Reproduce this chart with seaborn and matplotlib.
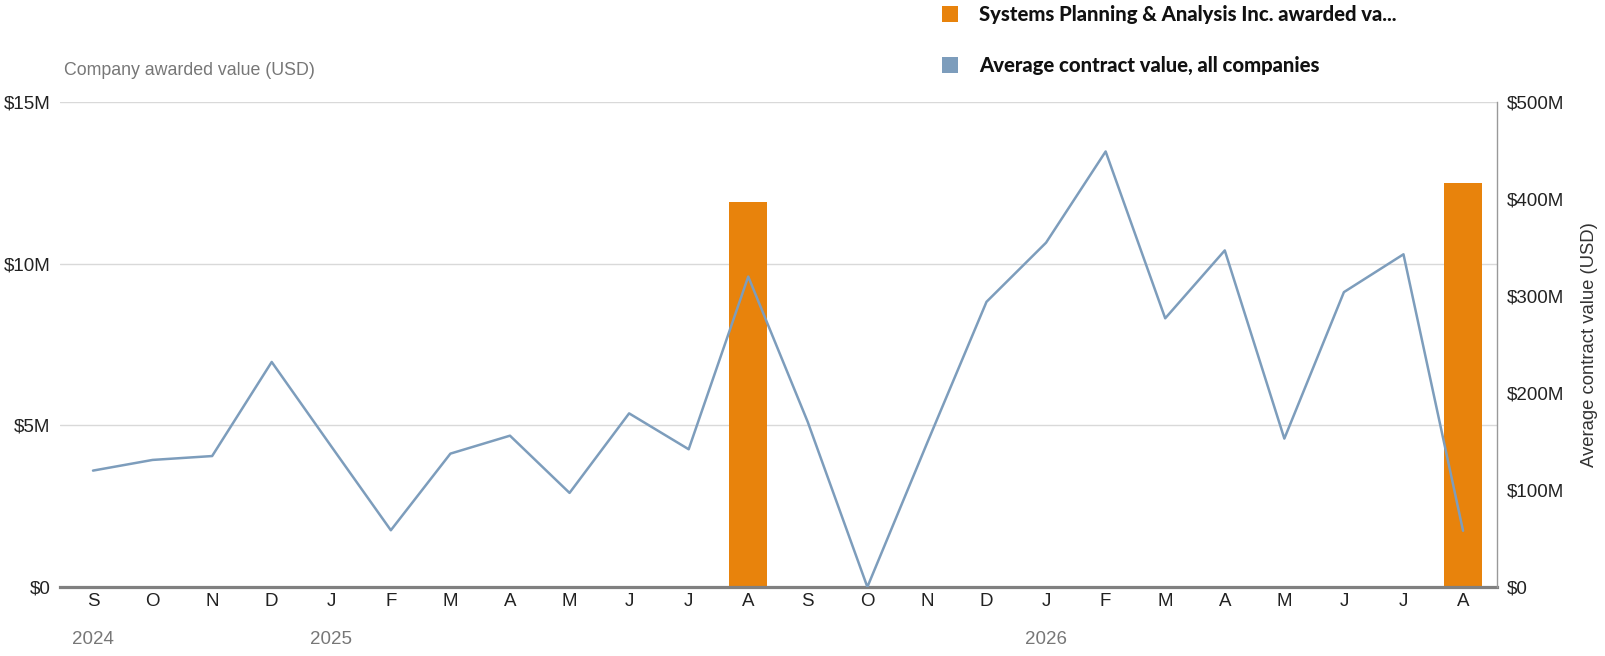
import matplotlib
matplotlib.use("Agg")
import matplotlib.pyplot as plt
import matplotlib.transforms as mtransforms
from matplotlib.patches import Rectangle
import pandas as pd
import seaborn as sns

# Monthly data, Sep 2024 - Aug 2026
months = ['S', 'O', 'N', 'D', 'J', 'F', 'M', 'A', 'M', 'J', 'J', 'A',
          'S', 'O', 'N', 'D', 'J', 'F', 'M', 'A', 'M', 'J', 'J', 'A']
# company awarded value, $M (left axis)
awarded = [0, 0, 0, 0, 0, 0, 0, 0, 0, 0, 0, 11.9,
           0, 0, 0, 0, 0, 0, 0, 0, 0, 0, 0, 12.5]
# average contract value all companies, $M (right axis)
avg_value = [120, 131, 135, 232, 145, 58.5, 137.5, 156, 97, 179, 142, 320,
             170, 0, 148, 294, 355, 449, 277, 347, 153, 304, 343, 58]
years = ['2024', '2025', '2026']
year_pos = [0, 4, 16]

df = pd.DataFrame({'idx': range(len(months)), 'month': months,
                   'awarded': awarded, 'avg': avg_value})

ORANGE = '#E8830C'
BLUE = '#7D9DBC'
W, H = 1606, 656

sns.set_style('white')
plt.rcParams['font.family'] = ['Liberation Sans', 'DejaVu Sans']

fig = plt.figure(figsize=(W / 100, H / 100), dpi=100)
ax = fig.add_axes([60 / W, (H - 587) / H, (1497 - 60) / W, (587 - 102) / H])

sns.barplot(data=df, x='idx', y='awarded', color=ORANGE, width=0.64,
            saturation=1, linewidth=0, ax=ax)
ax.set_ylim(0, 15)
ax.set_xlim(-0.554, 23.57)
ax.set_yticks([0, 5, 10, 15])
ax.set_yticklabels(['$0', '$5M', '$10M', '$15M'])
ax.set_xticks(range(len(months)))
ax.set_xticklabels(months)
ax.set_xlabel('')
ax.set_ylabel('')
ax.grid(axis='y', color='#d9d9d9', lw=1)
ax.set_axisbelow(True)
for s in ['left', 'top', 'right']:
    ax.spines[s].set_visible(False)
ax.spines['bottom'].set_color('#808080')
ax.spines['bottom'].set_linewidth(2.3)
ax.spines['bottom'].set_zorder(5)
ax.tick_params(axis='both', length=0, labelsize=13.5, colors='#222222')
ax.tick_params(axis='y', pad=7)
ax.tick_params(axis='x', pad=4)

ax2 = ax.twinx()
sns.lineplot(data=df, x='idx', y='avg', color=BLUE, lw=1.8, ax=ax2)
ax2.set_ylim(0, 500)
ax2.set_yticks([0, 100, 200, 300, 400, 500])
ax2.set_yticklabels(['$0', '$100M', '$200M', '$300M', '$400M', '$500M'])
ax2.set_xlim(-0.554, 23.57)
ax2.set_xlabel('')
ax2.set_ylabel('Average contract value (USD)', fontsize=13.3, color='#333333',
               labelpad=12)
for s in ['left', 'top', 'bottom']:
    ax2.spines[s].set_visible(False)
ax2.spines['right'].set_color('#999999')
ax2.spines['right'].set_linewidth(1)
ax2.tick_params(axis='y', length=0, labelsize=13.5, colors='#222222', pad=7)
ax2.grid(False)

# year labels under the months
trans = mtransforms.blended_transform_factory(ax.transData, fig.transFigure)
for y, p in zip(years, year_pos):
    ax.text(p, 1 - 639 / H, y, transform=trans, ha='center', va='center',
            fontsize=13.5, color='#777777')

fig.text(64 / W, 1 - 70.5 / H, 'Company awarded value (USD)',
         fontsize=12.8, color='#777777', va='center', ha='left')

# legend
leg_items = [(ORANGE, 'Systems Planning & Analysis Inc. awarded va...', 14),
             (BLUE, 'Average contract value, all companies', 65)]
for col, label, yc in leg_items:
    fig.add_artist(Rectangle((942 / W, 1 - (yc + 8) / H), 16 / W, 16 / H,
                             transform=fig.transFigure, color=col, lw=0))
    fig.text(979 / W, 1 - yc / H, label, fontsize=14.6, fontweight='black',
             family=['Lato', 'DejaVu Sans'], color='#111111', va='center', ha='left')

fig.savefig('out.png', dpi=100)
